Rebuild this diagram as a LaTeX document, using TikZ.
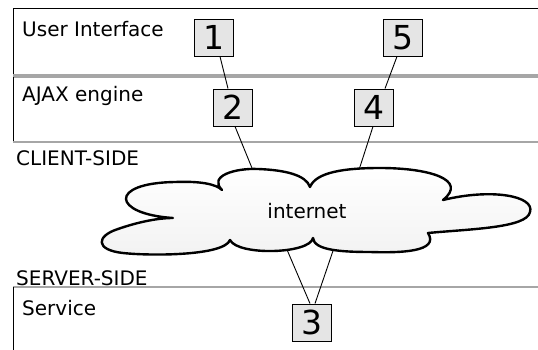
\documentclass[tikz,border=0pt]{standalone}
\usepackage{fontspec}
\setmainfont{DejaVu Sans}
\usetikzlibrary{calc}
\begin{document}
\begin{tikzpicture}[x=1pt,y=-1pt,
  numbox/.style={draw=black, line width=0.9pt, fill=gray!20, minimum width=39pt, minimum height=37pt, inner sep=0pt, font=\fontsize{33}{33}\selectfont},
  lbl/.style={anchor=base west, inner sep=0pt, font=\fontsize{20}{21}\selectfont},
  link/.style={draw=black, line width=0.9pt},
  edgeblack/.style={draw=black, line width=1pt},
  edgegray/.style={draw=gray!70, line width=1.1pt}]
\useasboundingbox (0,0) rectangle (538,350);
% layers
\draw[edgeblack] (13,75) -- (13,9) -- (538,9);
\draw[edgegray] (13,75) -- (538,75);
\draw[edgegray] (13,77) -- (538,77);
\draw[edgeblack] (13,77) -- (13,142);
\draw[edgegray] (13,142) -- (538,142);
\draw[edgegray] (13,287) -- (538,287);
\draw[edgeblack] (13,287) -- (13,352);
% labels
\node[lbl] (ui) at (22,37) {User Interface};
\node[lbl] (ajax) at (22,102) {AJAX engine};
\node[lbl] (client) at (16,165) {CLIENT-SIDE};
\node[lbl] (server) at (16,285) {SERVER-SIDE};
\node[lbl] (service) at (22,315) {Service};
% boxes
\node[numbox] (n1) at (213.5,37.5) {1};
\node[numbox] (n5) at (402.5,37.5) {5};
\node[numbox] (n2) at (232.5,107.5) {2};
\node[numbox] (n4) at (374,107.5) {4};
\node[numbox] (n3) at (311.5,322.5) {3};
% cloud anchor points
\coordinate (c2) at (254,173);
\coordinate (c4) at (358,173);
\coordinate (cl) at (285,245);
\coordinate (cr) at (335,245);
% connectors
\draw[link] ($(n1.south)+(6.5,0)$) -- ($(n2.north)+(-4.5,0)$);
\draw[link] ($(n5.south)+(-5.5,0)$) -- ($(n4.north)+(11,0)$);
\draw[link] ($(n2.south)+(2.5,0)$) -- (c2);
\draw[link] ($(n4.south)+(-1,0)$) -- (c4);
\draw[link] (cl) -- ($(n3.north)+(-1.5,0)$);
\draw[link] (cr) -- ($(n3.north)+(3.5,0)$);
% cloud
\draw[line width=2.4pt, line join=round, top color=white, bottom color=gray!10]
  (173,218)
  .. controls (112,214) and (108,183) .. (175,182)
  .. controls (200,181) and (216,184) .. (222,190)
  .. controls (208,176) and (235,168) .. (258,169)
  .. controls (285,170) and (306,175) .. (310,187)
  .. controls (316,172) and (345,168) .. (380,168)
  .. controls (430,168) and (468,180) .. (443,200)
  .. controls (492,188) and (535,196) .. (530,212)
  .. controls (527,228) and (470,229) .. (428,233)
  .. controls (440,252) and (400,253) .. (370,252)
  .. controls (340,252) and (314,250) .. (313,238)
  .. controls (310,254) and (238,256) .. (230,240)
  .. controls (224,256) and (150,256) .. (123,253)
  .. controls (95,250) and (96,236) .. (118,229)
  .. controls (138,222) and (158,218) .. (173,218) -- cycle;
\node[inner sep=0pt, anchor=base, font=\fontsize{20}{21}\selectfont] (inet) at (307,218) {internet};
\end{tikzpicture}
\end{document}
